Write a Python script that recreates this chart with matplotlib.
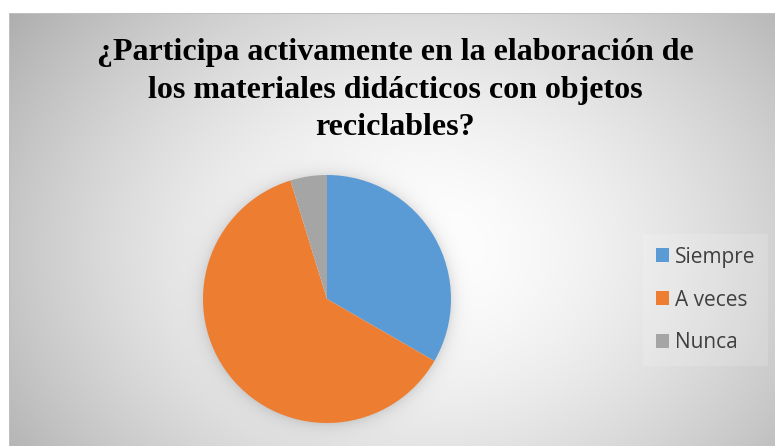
import matplotlib
matplotlib.use('Agg')
import matplotlib.pyplot as plt
import numpy as np

# data
categories = ['Siempre', 'A veces', 'Nunca']
counts = [7, 13, 1]
colors = ['#5B9BD5', '#ED7D31', '#A5A5A5']
title = '¿Participa activamente en la elaboración de\nlos materiales didácticos con objetos\nreciclables?'

W, H = 775, 446
fig = plt.figure(figsize=(W / 100, H / 100), dpi=100)
fig.patch.set_facecolor('white')

# chart area with radial gradient background
x0, y0 = 9, 13
bg = fig.add_axes([x0 / W, 0, 1 - x0 / W, 1 - y0 / H])
bg.set_axis_off()
yy, xx = np.mgrid[y0:H, x0:W]
cx, cy = 420, 250
d = np.sqrt(((xx - cx) / 430) ** 2 + ((yy - cy) / 330) ** 2)
val = 1.0 - 0.24 * np.clip(d, 0, 1.2) ** 1.6
# soft shadow round the pie
pcx, pcy, R = 327, 299, 124
dp = np.sqrt((xx - pcx) ** 2 + (yy - pcy) ** 2)
val -= 0.10 * np.exp(-np.clip(dp - R, 0, None) / 7.0) * (dp > R - 2)
val = np.clip(val, 0, 1)
bg.imshow(np.dstack([val, val, val]), aspect='auto', extent=[0, 1, 0, 1], origin='upper')
bg.set_xlim(0, 1)
bg.set_ylim(0, 1)
bg.plot([0, 0], [0, 1], color='#bfbfbf', lw=1.5)
bg.plot([0, 1], [1, 1], color='#bfbfbf', lw=1.5)

# pie
ax = fig.add_axes([(pcx - R) / W, (H - pcy - R) / H, 2 * R / W, 2 * R / H])
wedges, _ = ax.pie(counts, colors=colors, startangle=90, counterclock=False, radius=1)
ax.set_xlim(-1, 1)
ax.set_ylim(-1, 1)
ax.set_aspect('equal')

fig.text(395 / W, 1 - 38 / H, title, ha='center', va='top',
         fontfamily='Liberation Serif', fontweight='bold', fontsize=23,
         linespacing=1.39, color='black')

leg = fig.legend(wedges, categories, loc='center left',
                 bbox_to_anchor=(643 / W, 1 - 300 / H),
                 prop={'family': 'Open Sans', 'size': 15},
                 labelcolor='#404040', frameon=True, fancybox=False,
                 facecolor='white', framealpha=0.15, edgecolor='none',
                 borderpad=0.6, borderaxespad=0, handlelength=0.63,
                 handleheight=0.63, handletextpad=0.3, labelspacing=1.05)

fig.savefig('out.png', dpi=100)
